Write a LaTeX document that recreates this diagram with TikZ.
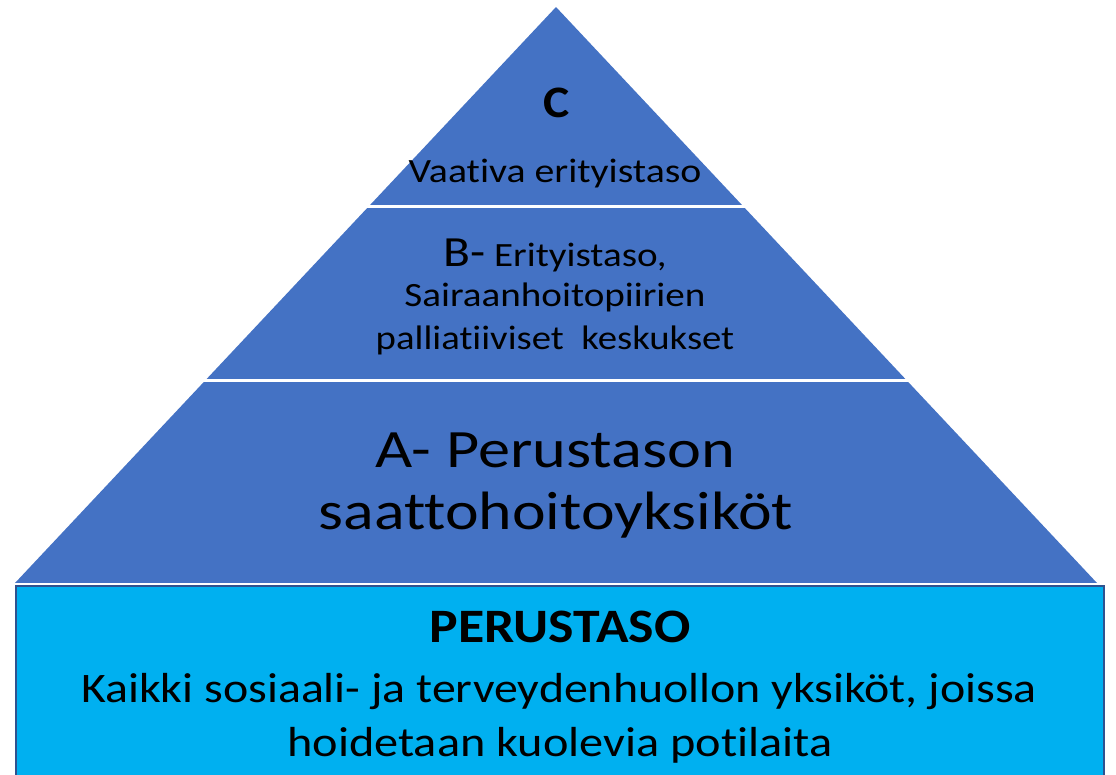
\documentclass[tikz,border=0pt]{standalone}
\usepackage{fontspec}
\setmainfont[Ligatures=NoCommon]{Carlito}
\usetikzlibrary{calc}
\definecolor{tri}{HTML}{4472C4}
\definecolor{base}{HTML}{00B0F0}
\definecolor{edge}{HTML}{2F528F}
\newcommand{\widen}[2]{\scalebox{#1}[1]{#2}}
\tikzset{
  lbl/.style={inner sep=0pt, anchor=base, text=black, align=center},
  gap/.style={white, line width=3pt}
}
\begin{document}
\begin{tikzpicture}[x=1pt,y=-1pt]
\useasboundingbox (0,0) rectangle (1116,774);
\coordinate (apex) at (556,7);
\coordinate (bl) at (15,583);
\coordinate (br) at (1097,583);
\fill[tri] (apex) -- (bl) -- (br) -- cycle;
\coordinate (l1) at ($(apex)!0.347!(bl)$);
\coordinate (r1) at ($(apex)!0.347!(br)$);
\coordinate (l2) at ($(apex)!0.649!(bl)$);
\coordinate (r2) at ($(apex)!0.649!(br)$);
\draw[gap] ($(l1)+(-3,0)$) -- ($(r1)+(3,0)$);
\draw[gap] ($(l2)+(-3,0)$) -- ($(r2)+(3,0)$);
\draw[gap] ($(bl)+(-3,1.5)$) -- ($(br)+(3,1.5)$);
\filldraw[fill=base, draw=edge, line width=2pt] (16,800) -- (16,586) -- (1104,586) -- (1104,800);
\node[lbl, font=\fontsize{45}{45}\selectfont\bfseries] (c) at (557,117) {\widen{1.1}{C}};
\node[lbl, font=\fontsize{34}{34}\selectfont] (cv) at (555,182) {\widen{1.17}{Vaativa erityistaso}};
\node[lbl, font=\fontsize{34}{34}\selectfont] (b1) at (555,266) {\widen{1.15}{{\fontsize{43}{43}\selectfont B-} Erityistaso,}};
\node[lbl, font=\fontsize{34}{34}\selectfont] (b2) at (555,306) {\widen{1.15}{Sairaanhoitopiirien}};
\node[lbl, font=\fontsize{34}{34}\selectfont] (b3) at (555,349) {\widen{1.14}{palliatiiviset\ \ keskukset}};
\node[lbl, font=\fontsize{54}{54}\selectfont] (a1) at (555,467) {\widen{1.19}{A- Perustason}};
\node[lbl, font=\fontsize{54}{54}\selectfont] (a2) at (556,529) {\widen{1.18}{saattohoitoyksiköt}};
\node[lbl, font=\fontsize{48}{48}\selectfont\bfseries] (p1) at (560,642) {\widen{1.12}{PERUSTASO}};
\node[lbl, font=\fontsize{42}{42}\selectfont] (p2) at (559,702) {\widen{1.14}{Kaikki sosiaali- ja terveydenhuollon yksiköt, joissa}};
\node[lbl, font=\fontsize{42}{42}\selectfont] (p3) at (560,756) {\widen{1.15}{hoidetaan kuolevia potilaita}};
\end{tikzpicture}
\end{document}
